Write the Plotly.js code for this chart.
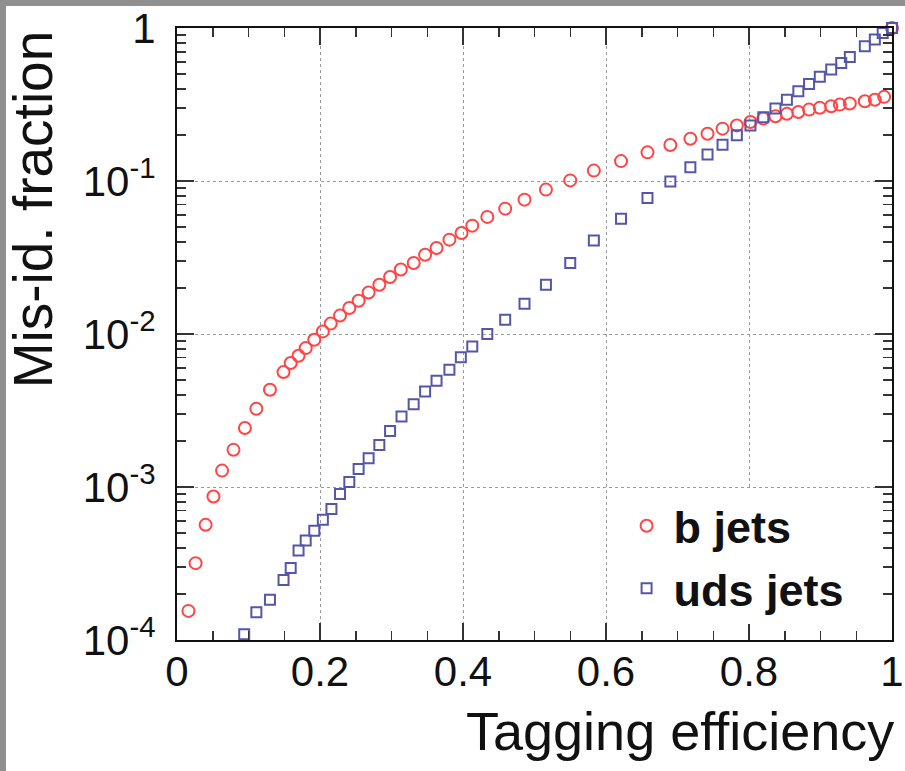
<!DOCTYPE html>
<html>
<head>
<meta charset="utf-8">
<script src="https://cdn.plot.ly/plotly-3.0.1.min.js"></script>
<style>
html,body{margin:0;padding:0;background:#8f8f8f;width:905px;height:771px;overflow:hidden;}
#chart{position:absolute;left:6px;top:6px;width:899px;height:765px;background:#fff;}
</style>
</head>
<body>
<div id="chart"></div>
<script>
// b jets: tagging efficiency vs mis-id fraction
const bEff = [0.016,0.026,0.040,0.051,0.063,0.079,0.095,0.111,0.130,0.149,0.159,0.170,0.180,0.192,0.204,0.215,0.228,0.241,0.254,0.268,0.283,0.298,0.313,0.331,0.347,0.363,0.381,0.398,0.413,0.434,0.459,0.486,0.516,0.550,0.583,0.621,0.658,0.690,0.718,0.742,0.763,0.783,0.802,0.820,0.837,0.853,0.869,0.884,0.899,0.915,0.927,0.941,0.962,0.976,0.989,1.0];
const bMis = [1.55e-4,3.18e-4,5.66e-4,8.67e-4,1.28e-3,1.75e-3,2.43e-3,3.25e-3,4.32e-3,5.64e-3,6.46e-3,7.21e-3,8.09e-3,9.18e-3,1.04e-2,1.17e-2,1.32e-2,1.48e-2,1.65e-2,1.87e-2,2.10e-2,2.36e-2,2.64e-2,2.91e-2,3.30e-2,3.65e-2,4.14e-2,4.58e-2,5.11e-2,5.83e-2,6.60e-2,7.56e-2,8.79e-2,0.101,0.117,0.135,0.154,0.172,0.189,0.204,0.220,0.231,0.243,0.256,0.265,0.275,0.283,0.293,0.301,0.308,0.316,0.321,0.332,0.340,0.355,1.0];
// uds jets
const udsEff = [0.094,0.111,0.130,0.149,0.159,0.170,0.180,0.192,0.204,0.216,0.228,0.241,0.254,0.268,0.283,0.298,0.314,0.331,0.347,0.363,0.381,0.397,0.413,0.434,0.459,0.486,0.516,0.550,0.583,0.621,0.658,0.690,0.718,0.742,0.763,0.783,0.802,0.820,0.837,0.853,0.869,0.884,0.899,0.915,0.929,0.941,0.962,0.976,0.987,1.0];
const udsMis = [1.09e-4,1.52e-4,1.83e-4,2.47e-4,2.95e-4,3.85e-4,4.47e-4,5.17e-4,6.10e-4,7.17e-4,8.99e-4,1.08e-3,1.31e-3,1.54e-3,1.88e-3,2.32e-3,2.89e-3,3.48e-3,4.21e-3,4.95e-3,5.85e-3,7.04e-3,8.30e-3,1.0e-2,1.24e-2,1.58e-2,2.10e-2,2.91e-2,4.09e-2,5.68e-2,7.75e-2,0.0995,0.123,0.149,0.173,0.199,0.231,0.261,0.298,0.340,0.386,0.431,0.480,0.535,0.592,0.648,0.760,0.841,0.93,1.0];

const xTickVals = [0,0.2,0.4,0.6,0.8,1];
const xTickText = ['0','0.2','0.4','0.6','0.8','1'];
const yTickVals = [1e-4,1e-3,1e-2,1e-1,1];
const yTickText = ['10<sup>-4</sup>','10<sup>-3</sup>','10<sup>-2</sup>','10<sup>-1</sup>','1'];

const FONT = '"Liberation Sans", Arial, Helvetica, sans-serif';

const traces = [
  {x:bEff, y:bMis, name:'b jets', type:'scatter', mode:'markers', legendgroup:'b', cliponaxis:false,
   marker:{symbol:'circle-open', size:12, color:'#ff4545', line:{width:2, color:'#ff4545'}}},
  {x:udsEff, y:udsMis, name:'uds jets', type:'scatter', mode:'markers', legendgroup:'u', cliponaxis:false,
   marker:{symbol:'square-open', size:10, color:'#5656a6', line:{width:2, color:'#5656a6'}}}
];

const axCommon = {
  showline:true, linecolor:'#111', linewidth:2, mirror:'ticks',
  ticks:'inside', ticklen:17, tickwidth:1.5, tickcolor:'#333',
  showgrid:true, gridcolor:'#9a9a9a', griddash:'dot', gridwidth:1,
  zeroline:false, ticklabeloverflow:'allow',
  tickfont:{family:FONT, size:42, color:'#111'}
};

const layout = {
  width:899, height:765,
  margin:{l:171, r:13, t:22, b:131},
  paper_bgcolor:'#fff', plot_bgcolor:'#fff',
  font:{family:FONT, color:'#111'},
  showlegend:true,
  xaxis:Object.assign({}, axCommon, {
    range:[0,1], tickmode:'array', tickvals:xTickVals, ticktext:xTickText,
    ticklabelstandoff:-6,
    minor:{ticks:'inside', ticklen:9, dtick:0.05, tick0:0, tickcolor:'#333', tickwidth:1.5, showgrid:false}
  }),
  yaxis:Object.assign({}, axCommon, {
    type:'log', range:[-4,0.0004], tickmode:'array', tickvals:yTickVals, ticktext:yTickText,
    ticklabelstandoff:11,
    minor:{ticks:'inside', ticklen:9, dtick:'D1', tickcolor:'#333', tickwidth:1.5, showgrid:false}
  }),
  legend:{x:0.619, y:0.245, xanchor:'left', yanchor:'top', bgcolor:'#fff', borderwidth:0,
    itemwidth:44, tracegroupgap:1, font:{family:FONT, size:45, weight:'bold', color:'#111'}},
  annotations:[
    {text:'Mis-id. fraction', xref:'paper', yref:'paper', x:-0.201, y:1.0, xanchor:'center', yanchor:'top',
     textangle:-90, showarrow:false, font:{family:FONT, size:55, color:'#111'}},
    {text:'Tagging efficiency', xref:'paper', yref:'paper', x:1.005, y:-0.149, xanchor:'right', yanchor:'middle',
     showarrow:false, font:{family:FONT, size:54, color:'#111'}}
  ]
};

Plotly.newPlot('chart', traces, layout, {displayModeBar:false, staticPlot:true});
</script>
</body>
</html>
